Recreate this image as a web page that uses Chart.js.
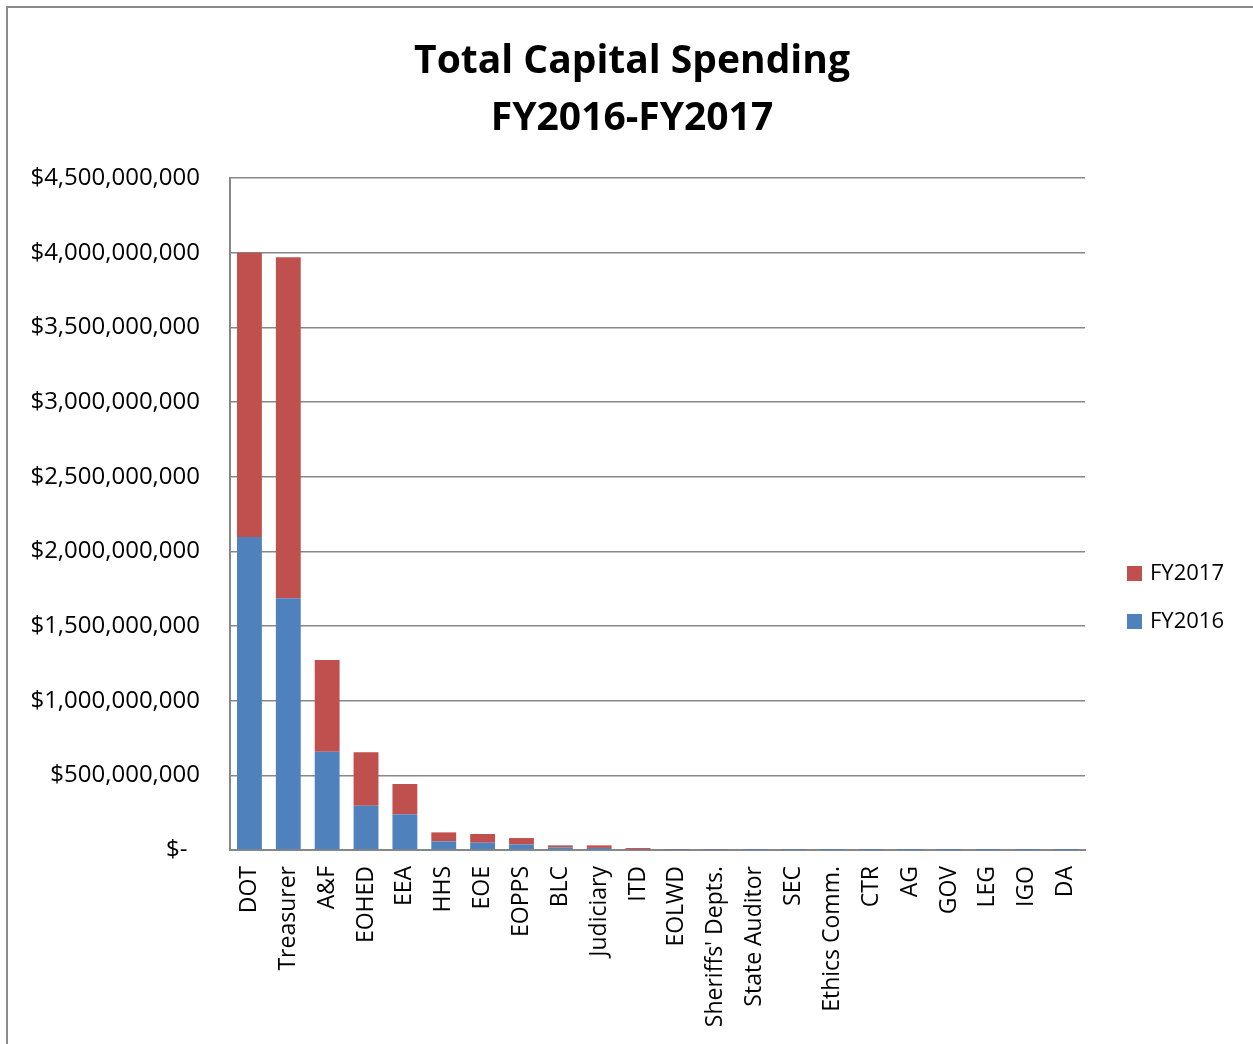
<!DOCTYPE html>
<html>
<head>
<meta charset="utf-8">
<title>Total Capital Spending FY2016-FY2017</title>
<script src="https://cdn.jsdelivr.net/npm/chart.js@4.4.1/dist/chart.umd.min.js"></script>
<style>
  html, body { margin: 0; padding: 0; background: #fff; }
  #wrap { position: relative; width: 1253px; height: 1044px; overflow: hidden; }
  #chart { position: absolute; left: 0; top: 0; }
  #frame {
    position: absolute; left: 6px; top: 6px; width: 1245px; height: 1040px;
    border: 2px solid #8a8a8a; border-bottom: none; pointer-events: none;
  }
</style>
</head>
<body>
<div id="wrap">
  <canvas id="chart" width="1253" height="1044"></canvas>
  <div id="frame"></div>
</div>
<script>
const FONT = "'Open Sans', sans-serif";

// departments, largest first
const categories = [
  "DOT", "Treasurer", "A&F", "EOHED", "EEA", "HHS", "EOE", "EOPPS", "BLC",
  "Judiciary", "ITD", "EOLWD", "Sheriffs' Depts.", "State Auditor", "SEC",
  "Ethics Comm.", "CTR", "AG", "GOV", "LEG", "IGO", "DA"
];

// spending in dollars
const fy2016 = [
  2096000000, 1685000000, 658000000, 297000000, 239000000, 58000000,
  49000000, 38000000, 18000000, 14000000, 3000000, 2000000, 1500000,
  600000, 400000, 200000, 200000, 150000, 100000, 100000, 50000, 50000
];
const fy2017 = [
  1904000000, 2284000000, 614000000, 357000000, 203000000, 60000000,
  58000000, 42000000, 13000000, 17000000, 10000000, 2500000, 2500000,
  800000, 500000, 200000, 200000, 150000, 100000, 100000, 50000, 50000
];

const yTicks = [0, 500000000, 1000000000, 1500000000, 2000000000,
  2500000000, 3000000000, 3500000000, 4000000000, 4500000000];

const titleLines = ["Total Capital Spending", "FY2016-FY2017"];

const BLUE = "#4f81bd";
const RED = "#c0504d";
const GRID = "#878787";

function money(v) {
  if (v === 0) return "$-  ";
  return "$" + v.toLocaleString("en-US");
}

// title over the whole frame, legend to the right of the plot
const decorations = {
  id: "decorations",
  afterDraw(chart) {
    const ctx = chart.ctx;
    ctx.save();

    ctx.fillStyle = "#000";
    ctx.textAlign = "center";
    ctx.textBaseline = "middle";
    ctx.font = "bold 39px " + FONT;
    ctx.fillText(titleLines[0], 632, 62);
    ctx.fillText(titleLines[1], 632, 119);

    const x = chart.chartArea.right + 42;
    const items = [
      { label: "FY2017", color: RED, y: 573 },
      { label: "FY2016", color: BLUE, y: 621 }
    ];
    ctx.font = "22px " + FONT;
    ctx.textAlign = "left";
    items.forEach(it => {
      ctx.fillStyle = it.color;
      ctx.fillRect(x, it.y - 7, 15, 15);
      ctx.fillStyle = "#000";
      ctx.fillText(it.label, x + 23, it.y + 1);
    });
    ctx.restore();
  }
};

new Chart(document.getElementById("chart"), {
  type: "bar",
  data: {
    labels: categories,
    datasets: [
      { label: "FY2016", data: fy2016, backgroundColor: BLUE, borderWidth: 0 },
      { label: "FY2017", data: fy2017, backgroundColor: RED, borderWidth: 0 }
    ]
  },
  options: {
    responsive: false,
    animation: false,
    layout: { padding: { left: 0, right: 168, top: 178, bottom: 0 } },
    datasets: {
      bar: { barPercentage: 0.64, categoryPercentage: 1 }
    },
    plugins: {
      legend: { display: false },
      tooltip: { enabled: false },
      title: { display: false }
    },
    scales: {
      x: {
        stacked: true,
        grid: { display: false, drawTicks: false },
        border: { display: true, color: GRID, width: 2 },
        ticks: {
          color: "#000",
          font: { family: FONT, size: 23 },
          minRotation: 90,
          maxRotation: 90,
          autoSkip: false,
          padding: 16
        },
        afterFit(axis) { axis.height = 194; }
      },
      y: {
        stacked: true,
        min: 0,
        max: 4500000000,
        afterBuildTicks(axis) { axis.ticks = yTicks.map(v => ({ value: v })); },
        grid: { color: GRID, lineWidth: 1.5, drawTicks: false },
        border: { display: true, color: GRID, width: 2 },
        ticks: {
          color: "#000",
          font: { family: FONT, size: 24 },
          padding: 30,
          callback: v => money(v)
        },
        afterFit(axis) { axis.width = 230; }
      }
    }
  },
  plugins: [decorations]
});
</script>
</body>
</html>
